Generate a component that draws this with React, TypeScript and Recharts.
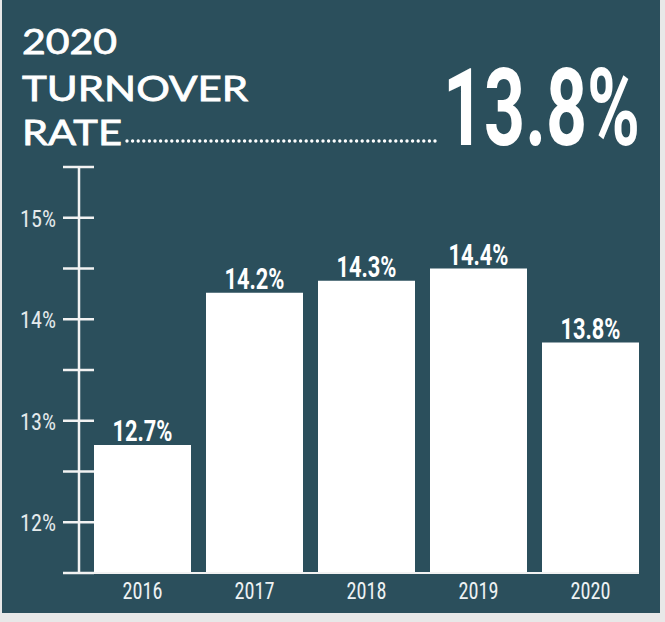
import React from 'react';
import { BarChart, Bar, XAxis, YAxis, LabelList } from 'recharts';

const years = ['2016', '2017', '2018', '2019', '2020'];
const barValues = [12.76, 14.26, 14.38, 14.5, 13.77];
const valueLabels = ['12.7%', '14.2%', '14.3%', '14.4%', '13.8%'];
const yTicks = [11.5, 12, 12.5, 13, 13.5, 14, 14.5, 15, 15.5];
const titleLines = ['2020', 'TURNOVER', 'RATE'];
const headline = '13.8%';

const data = years.map((y, i) => ({ year: y, value: barValues[i], label: valueLabels[i] }));

const TEAL = '#2b4f5c';
const NARROW = "'Liberation Sans Narrow', 'Roboto Condensed', Roboto, sans-serif";

const YTick = (props: any) => {
  const { x, y, payload } = props;
  const v = payload.value;
  const isInt = Math.abs(v - Math.round(v)) < 1e-6;
  return (
    <g>
      <line x1={x - 16} x2={x + 15} y1={y} y2={y} stroke="#f2f2f2" strokeWidth={2.5} />
      {isInt && (
        <text x={x - 23} y={y + 9} textAnchor="end" fill="#e4eaec" fontFamily={NARROW} fontSize={23} textLength={36} lengthAdjust="spacingAndGlyphs">
          {`${v}%`}
        </text>
      )}
    </g>
  );
};

const XTick = (props: any) => {
  const { x, y, payload } = props;
  return (
    <text x={x} y={y + 26} textAnchor="middle" fill="#eef2f3" fontFamily={NARROW} fontSize={23} textLength={40} lengthAdjust="spacingAndGlyphs">
      {payload.value}
    </text>
  );
};

const ValueLabel = (props: any) => {
  const { x, y, width, value } = props;
  return (
    <text x={x + width / 2} y={y - 4} textAnchor="middle" fill="#ffffff" fontFamily="Roboto, sans-serif" fontWeight={700} fontSize={30} textLength={60} lengthAdjust="spacingAndGlyphs">
      {value}
    </text>
  );
};

export default function App() {
  return (
    <div style={{ position: 'absolute', left: 0, top: 0, width: 665, height: 622, background: '#e8e8e8', overflow: 'hidden' }}>
      <div style={{ position: 'absolute', left: 2, top: 0, width: 658, height: 613, background: TEAL }} />
      <svg width={665} height={200} style={{ position: 'absolute', left: 0, top: 0 }}>
        <g fill="#ffffff" stroke="#ffffff" strokeWidth={0.8} fontFamily="Lato, 'Noto Sans', sans-serif" fontWeight={400} fontSize={35.5}>
          <text x={22} y={54} textLength={95} lengthAdjust="spacingAndGlyphs">{titleLines[0]}</text>
          <text x={22} y={101} textLength={226} lengthAdjust="spacingAndGlyphs">{titleLines[1]}</text>
          <text x={22} y={144.5} textLength={100} lengthAdjust="spacingAndGlyphs">{titleLines[2]}</text>
        </g>
        <line x1={127} x2={440} y1={141} y2={141} stroke="#ffffff" strokeWidth={3.4} strokeLinecap="round" strokeDasharray="0 5.6" />
        <g transform="translate(443,145) scale(1,1.35)">
          <text x={0} y={0} fill="#ffffff" fontFamily="Roboto, sans-serif" fontWeight={700} fontSize={80} textLength={197} lengthAdjust="spacingAndGlyphs">
            {headline}
          </text>
        </g>
      </svg>
      <div style={{ position: 'absolute', left: 0, top: 0 }}>
        <BarChart width={665} height={622} data={data} margin={{ top: 167, right: 26, bottom: 19, left: 0 }} barCategoryGap={7.5}>
          <XAxis
            dataKey="year"
            height={30}
            padding={{ left: 7.5, right: -7.5 }}
            axisLine={{ stroke: '#f2f2f2', strokeWidth: 2 }}
            tickLine={false}
            tickSize={0}
            tickMargin={0}
            tick={<XTick />}
            interval={0}
          />
          <YAxis
            width={79}
            domain={[11.5, 15.5]}
            ticks={yTicks}
            allowDataOverflow
            axisLine={{ stroke: '#f2f2f2', strokeWidth: 2.5 }}
            tickLine={false}
            tickSize={0}
            tickMargin={0}
            tick={<YTick />}
            interval={0}
          />
          <Bar dataKey="value" fill="#ffffff" isAnimationActive={false}>
            <LabelList dataKey="label" content={<ValueLabel />} />
          </Bar>
        </BarChart>
      </div>
    </div>
  );
}
